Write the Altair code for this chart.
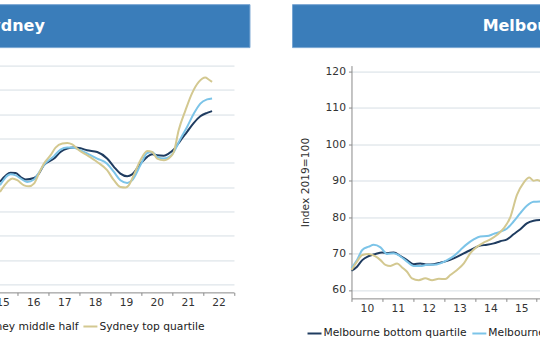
import altair as alt
import pandas as pd

# ---------------- data ----------------
syd_names = ["Sydney bottom quartile", "Sydney middle half", "Sydney top quartile"]
mel_names = ["Melbourne bottom quartile", "Melbourne middle half", "Melbourne top quartile"]

syd_bottom_x = [2015.42, 2015.76, 2015.93, 2016.09, 2016.25, 2016.52, 2016.68, 2016.84, 2017.17, 2017.38,
                2017.60, 2017.81, 2018.03, 2018.24, 2018.57, 2018.89, 2019.11, 2019.32, 2019.54, 2019.70,
                2019.97, 2020.19, 2020.35, 2020.51, 2020.73, 2020.89, 2021.05, 2021.27, 2021.48, 2021.70,
                2021.91, 2022.13, 2022.29]
syd_bottom_y = [92.2, 96.0, 95.9, 94.2, 93.2, 93.8, 95.6, 99.1, 101.8, 104.5,
                105.9, 106.3, 106.0, 105.2, 104.5, 101.8, 98.4, 95.6, 94.5, 95.3,
                99.7, 102.5, 103.6, 103.2, 103.0, 103.9, 105.5, 109.3, 112.8, 116.5,
                119.2, 120.6, 121.3]

syd_middle_x = [2015.42, 2015.76, 2015.93, 2016.09, 2016.30, 2016.52, 2016.73, 2016.84, 2017.17, 2017.38,
                2017.60, 2017.81, 2018.03, 2018.24, 2018.57, 2018.89, 2019.11, 2019.32, 2019.54, 2019.70,
                2019.97, 2020.19, 2020.35, 2020.51, 2020.73, 2020.94, 2021.05, 2021.27, 2021.48, 2021.70,
                2021.91, 2022.13, 2022.29]
syd_middle_y = [90.8, 95.3, 94.9, 93.6, 92.2, 93.2, 97.0, 99.1, 102.8, 105.5,
                106.3, 106.2, 105.2, 103.9, 101.8, 99.7, 96.3, 92.9, 91.8, 92.9,
                99.1, 104.1, 104.5, 102.5, 101.8, 102.8, 104.5, 110.0, 114.8, 120.3,
                124.4, 126.1, 126.5]

syd_top_x = [2015.42, 2015.66, 2015.82, 2015.98, 2016.20, 2016.36, 2016.52, 2016.68, 2016.84, 2017.06,
             2017.22, 2017.44, 2017.60, 2017.76, 2017.98, 2018.24, 2018.57, 2018.89, 2019.11, 2019.32,
             2019.49, 2019.59, 2019.75, 2019.97, 2020.19, 2020.35, 2020.51, 2020.73, 2020.94, 2021.05,
             2021.21, 2021.43, 2021.64, 2021.86, 2022.07, 2022.18, 2022.29]
syd_top_y = [88.1, 92.2, 93.6, 92.9, 90.8, 90.4, 91.5, 95.6, 99.7, 103.2,
             106.3, 108.0, 108.2, 107.6, 105.2, 103.2, 100.4, 97.0, 92.9, 90.1,
             89.9, 90.8, 94.9, 101.1, 104.9, 104.5, 101.8, 101.1, 102.5, 104.5,
             113.5, 121.7, 128.6, 133.3, 135.1, 134.3, 133.3]

mel_bottom_x = [2010.00, 2010.18, 2010.35, 2010.56, 2010.78, 2010.99, 2011.15, 2011.37, 2011.59, 2011.80,
                2012.02, 2012.23, 2012.45, 2012.66, 2012.88, 2013.10, 2013.31, 2013.53, 2013.74, 2013.96,
                2014.17, 2014.39, 2014.61, 2014.82, 2015.04, 2015.25, 2015.47, 2015.68, 2015.90, 2016.12]
mel_bottom_y = [65.3, 66.4, 68.2, 69.3, 69.9, 70.3, 70.1, 70.3, 69.3, 68.2,
                67.1, 67.3, 67.0, 67.1, 67.5, 68.0, 68.7, 69.6, 70.5, 71.4,
                72.2, 72.4, 72.8, 73.4, 73.9, 75.3, 76.7, 78.3, 79.0, 79.2]

mel_middle_x = [2010.00, 2010.18, 2010.35, 2010.56, 2010.72, 2010.94, 2011.15, 2011.37, 2011.59, 2011.80,
                2012.02, 2012.23, 2012.45, 2012.66, 2012.88, 2013.10, 2013.31, 2013.53, 2013.74, 2013.96,
                2014.17, 2014.39, 2014.61, 2014.82, 2015.04, 2015.25, 2015.47, 2015.68, 2015.90, 2016.12]
mel_middle_y = [66.0, 68.2, 71.0, 71.9, 72.4, 71.7, 69.9, 70.1, 69.2, 67.8,
                66.6, 66.6, 66.9, 66.9, 67.3, 68.2, 69.3, 71.0, 72.6, 73.9,
                74.7, 74.8, 75.4, 76.0, 76.9, 78.8, 81.1, 83.1, 84.2, 84.3]

mel_top_x = [2010.00, 2010.18, 2010.35, 2010.56, 2010.78, 2010.94, 2011.10, 2011.26, 2011.48, 2011.64,
             2011.80, 2011.96, 2012.18, 2012.39, 2012.61, 2012.83, 2013.04, 2013.20, 2013.42, 2013.64,
             2013.85, 2014.07, 2014.28, 2014.50, 2014.71, 2014.93, 2015.15, 2015.36, 2015.58, 2015.76,
             2015.90, 2016.01, 2016.12]
mel_top_y = [65.5, 67.8, 69.6, 69.9, 69.2, 68.2, 66.9, 66.6, 67.3, 66.2,
             65.0, 63.2, 62.7, 63.2, 62.7, 63.1, 63.0, 64.1, 65.5, 67.3,
             70.1, 71.9, 73.0, 73.9, 75.1, 76.9, 80.1, 86.1, 89.5, 90.9,
             90.0, 90.2, 89.9]

syd_ticks = [50, 60, 70, 80, 90, 100, 110, 120, 130, 140]
mel_ticks = [60, 70, 80, 90, 100, 110, 120]
year_ticks = list(range(2010, 2024))

line_colors = ["#1f3c60", "#7cc4e8", "#d3c890"]

# ---------------- styling ----------------
FONT = "DejaVu Sans"
W = 401.7
BANNER = "#3a7dba"


def make_df(xs_list, ys_list, names):
    rows = []
    for xs, ys, n in zip(xs_list, ys_list, names):
        for x, y in zip(xs, ys):
            rows.append({"year": x, "value": y, "series": n})
    return pd.DataFrame(rows)


def panel(city, df, names, ydomain, yticks, height, legend_x, legend_y):
    lines = alt.Chart(df).mark_line(strokeWidth=2, interpolate="monotone").encode(
        x=alt.X("year:Q",
                scale=alt.Scale(domain=[2010, 2023], nice=False, zero=False),
                axis=alt.Axis(values=year_ticks, title=None, grid=False,
                              labelExpr="datum.value < 2023 ? substring(toString(datum.value), 2, 4) : ''",
                              labelOffset=15.45, labelFlush=False, labelOverlap=False,
                              tickSize=3, labelPadding=2)),
        y=alt.Y("value:Q",
                scale=alt.Scale(domain=ydomain, nice=False, zero=False),
                axis=alt.Axis(values=yticks, title="Index 2019=100", grid=True,
                              labelFlush=False, tickSize=3, labelPadding=3,
                              titleX=-46, titleY=height / 2, titleAngle=270,
                              titleAlign="center", titleBaseline="middle")),
        color=alt.Color("series:N",
                        scale=alt.Scale(domain=names, range=line_colors),
                        legend=alt.Legend(orient="none", legendX=legend_x, legendY=legend_y,
                                          direction="horizontal", title=None,
                                          symbolType="stroke", symbolSize=196,
                                          symbolStrokeWidth=2, labelFontSize=10.7,
                                          labelFont=FONT, labelColor="#222222",
                                          labelOffset=1, columnPadding=1, padding=0)),
    )
    tdf = pd.DataFrame({"title": [city]})
    banner = alt.Chart(tdf).mark_rect(color=BANNER, stroke="#76a5d2", strokeWidth=1).encode(
        x=alt.value(-59), x2=alt.value(W + 16), y=alt.value(-61), y2=alt.value(-18))
    label = alt.Chart(tdf).mark_text(font=FONT, fontSize=16, fontWeight="bold", color="white",
                                     align="center", baseline="middle").encode(
        x=alt.value((W - 43) / 2), y=alt.value(-39.5), text="title:N")
    return alt.layer(banner, label, lines).properties(width=W, height=height)


syd_df = make_df([syd_bottom_x, syd_middle_x, syd_top_x], [syd_bottom_y, syd_middle_y, syd_top_y], syd_names)
mel_df = make_df([mel_bottom_x, mel_middle_x, mel_top_x], [mel_bottom_y, mel_middle_y, mel_top_y], mel_names)

syd = panel("Sydney", syd_df, syd_names, [46.8, 140.0], syd_ticks, 227, -22, 253)
mel = panel("Melbourne", mel_df, mel_names, [57.7, 121.6], mel_ticks, 233, -45, 260)

chart = alt.hconcat(syd, mel, spacing=117.3, bounds="flush").resolve_scale(
    color="independent", x="independent", y="independent"
).properties(
    padding={"left": -227.5, "top": 3.5, "right": -230, "bottom": 0}
).configure_view(stroke=None).configure_axis(
    labelFont=FONT, labelFontSize=10.7, labelColor="#333333",
    titleFont=FONT, titleFontSize=10.7, titleColor="#333333", titleFontWeight="normal",
    domainColor="#8a8a8a", tickColor="#8a8a8a", gridColor="#d6dee4", gridWidth=1
)

chart.save("out.html", embed_options={"renderer": "svg", "actions": False})
